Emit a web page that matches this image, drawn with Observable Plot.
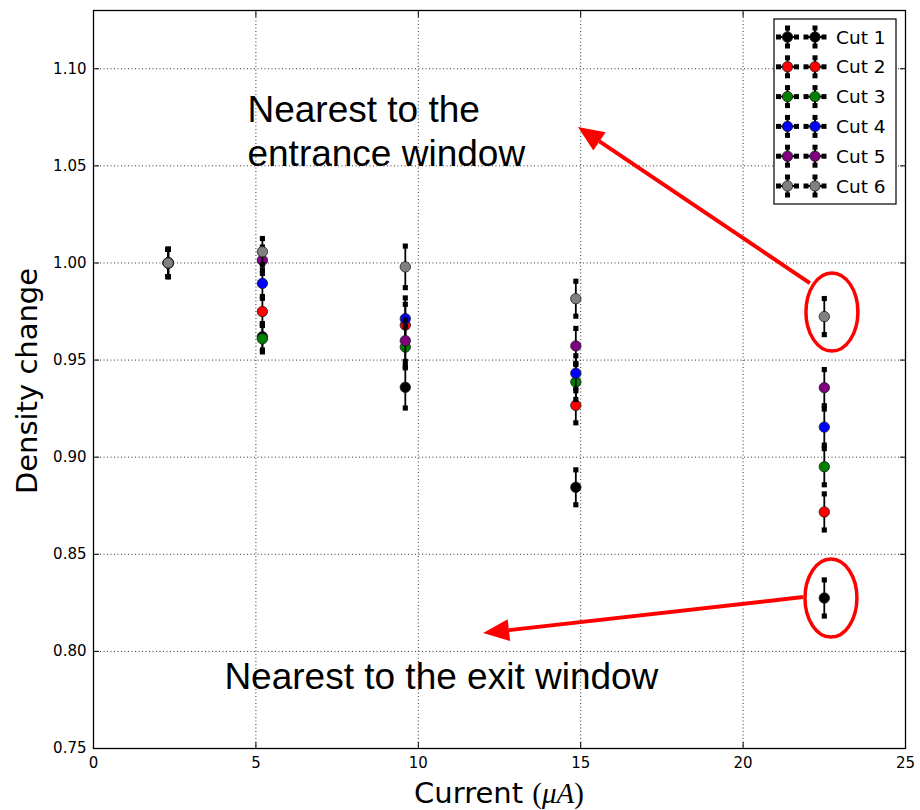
<!DOCTYPE html>
<html>
<head>
<meta charset="utf-8">
<script src="https://cdn.jsdelivr.net/npm/d3@7"></script>
<script src="https://cdn.jsdelivr.net/npm/@observablehq/plot@0.6"></script>
<style>
  body { margin: 0; background: #fff; }
  #chart svg { display: block; }
</style>
</head>
<body>
<div id="chart"></div>
<script>
// Beam current (µA) at which each density profile was measured
const currents = [2.3, 5.2, 9.6, 14.85, 22.5];

// Relative density change for each cut along the cell
const cutLabels = ["Cut 1", "Cut 2", "Cut 3", "Cut 4", "Cut 5", "Cut 6"];
const cutColors = ["#000000", "#ff0000", "#008000", "#0000ff", "#800080", "#808080"];
const cut1 = [1.000, 0.962, 0.936, 0.8845, 0.8275];
const cut2 = [1.000, 0.975, 0.968, 0.9267, 0.8718];
const cut3 = [1.000, 0.961, 0.9567, 0.9387, 0.8951];
const cut4 = [1.000, 0.9895, 0.9713, 0.9432, 0.9155];
const cut5 = [1.000, 1.0014, 0.960, 0.9573, 0.9358];
const cut6 = [1.000, 1.0058, 0.998, 0.9816, 0.9724];
const densityError = [0.007, 0.0068, 0.0107, 0.009, 0.0093];

const xTicks = [0, 5, 10, 15, 20, 25];
const yTicks = [0.75, 0.80, 0.85, 0.90, 0.95, 1.00, 1.05, 1.10];

// Callouts
const noteTexts = ["Nearest to the\nentrance window", "Nearest to the exit window"];
const noteX = [4.74, 4.03];
const noteY = [1.0497, 0.7804];
const ringX = [22.75, 22.72];
const ringY = [0.9745, 0.8272];
const ringRx = 0.8;
const ringRy = 0.0201;
const arrowFromX = [22.07, 21.86];
const arrowFromY = [0.9894, 0.8277];
const arrowToX = [14.93, 12.01];
const arrowToY = [1.0698, 0.8092];

const cutValues = [cut1, cut2, cut3, cut4, cut5, cut6];
const series = cutValues.map((vals, i) =>
  vals.map((v, j) => ({cut: cutLabels[i], x: currents[j], y: v, e: densityError[j]}))
);

// Wrap a drawing routine as a Plot render-function mark
function overlay(draw) {
  return (...args) => {
    const scales = args.find(a => a && typeof a.x === "function" && typeof a.y === "function");
    const dims = args.find(a => a && typeof a.width === "number" && "marginLeft" in a);
    const g = d3.create("svg:g");
    draw(g, scales, dims);
    return g.node();
  };
}

// Error bars, caps and markers, one cut after another
const seriesMarks = series.flatMap((data, i) => [
  Plot.ruleX(data, {x: "x", y1: d => d.y - d.e, y2: d => d.y + d.e, stroke: "black", strokeWidth: 1.8}),
  Plot.dot(data, {x: "x", y: d => d.y - d.e, symbol: "square", r: 2.9, fill: "black", stroke: "none"}),
  Plot.dot(data, {x: "x", y: d => d.y + d.e, symbol: "square", r: 2.9, fill: "black", stroke: "none"}),
  Plot.dot(data, {x: "x", y: "y", r: 5.2, fill: cutColors[i], stroke: "#1a1a1a", strokeWidth: 0.8})
]);

const callouts = overlay((g, s) => {
  // red rings
  ringX.forEach((cx, i) => {
    const px = s.x(cx), py = s.y(ringY[i]);
    const rx = s.x(cx + ringRx) - px, ry = py - s.y(ringY[i] + ringRy);
    g.append("ellipse").attr("cx", px).attr("cy", py).attr("rx", rx).attr("ry", ry)
      .attr("fill", "none").attr("stroke", "#ff0000").attr("stroke-width", 3.5);
  });
  // arrows with filled heads
  arrowFromX.forEach((fx, i) => {
    const x1 = s.x(fx), y1 = s.y(arrowFromY[i]);
    const x2 = s.x(arrowToX[i]), y2 = s.y(arrowToY[i]);
    const a = Math.atan2(y2 - y1, x2 - x1);
    const hl = 26, hw = 11;
    const bx = x2 - hl * Math.cos(a), by = y2 - hl * Math.sin(a);
    g.append("line").attr("x1", x1).attr("y1", y1).attr("x2", bx).attr("y2", by)
      .attr("stroke", "#ff0000").attr("stroke-width", 4);
    const nx = -Math.sin(a), ny = Math.cos(a);
    g.append("path")
      .attr("d", `M${x2},${y2}L${bx + hw * nx},${by + hw * ny}L${bx - hw * nx},${by - hw * ny}Z`)
      .attr("fill", "#ff0000");
  });
});

const legend = overlay((g, s, dims) => {
  const right = dims.width - dims.marginRight;
  const left = right - 131, top = dims.marginTop + 9;
  g.append("rect").attr("x", left).attr("y", top).attr("width", 122).attr("height", 185)
    .attr("fill", "white").attr("stroke", "black").attr("stroke-width", 1.2);
  cutLabels.forEach((label, i) => {
    const y = top + 18 + i * 29.8;
    [left + 13.5, left + 41].forEach(mx => {
      g.append("line").attr("x1", mx - 9).attr("x2", mx + 9).attr("y1", y).attr("y2", y)
        .attr("stroke", "black").attr("stroke-width", 2);
      g.append("line").attr("x1", mx).attr("x2", mx).attr("y1", y - 9).attr("y2", y + 9)
        .attr("stroke", "black").attr("stroke-width", 2);
      [[mx - 9, y], [mx + 9, y], [mx, y - 9], [mx, y + 9]].forEach(([cx, cy]) =>
        g.append("rect").attr("x", cx - 2.5).attr("y", cy - 2.5).attr("width", 5).attr("height", 5).attr("fill", "black"));
      g.append("circle").attr("cx", mx).attr("cy", y).attr("r", 5.2)
        .attr("fill", cutColors[i]).attr("stroke", "#1a1a1a").attr("stroke-width", 0.8);
    });
    g.append("text").attr("x", left + 62).attr("y", y).attr("dy", "0.36em")
      .style("text-anchor", "start").style("font-family", "DejaVu Sans").style("font-size", "18.5px")
      .attr("fill", "black").text(label);
  });
});

const axisTitles = overlay((g, s, dims) => {
  const cx = (dims.marginLeft + dims.width - dims.marginRight) / 2;
  const cy = (dims.marginTop + dims.height - dims.marginBottom) / 2;
  g.append("text").attr("transform", `translate(36.5,${cy + 2}) rotate(-90)`)
    .style("text-anchor", "middle").style("font-family", "DejaVu Sans").style("font-size", "29px")
    .attr("fill", "black").text("Density change");
  const t = g.append("text").attr("x", cx).attr("y", dims.height - 7)
    .style("text-anchor", "middle").style("font-family", "DejaVu Sans").style("font-size", "29px").attr("fill", "black");
  t.append("tspan").text("Current ");
  t.append("tspan").style("font-family", "Liberation Serif").text("(");
  t.append("tspan").style("font-family", "Liberation Serif").style("font-style", "italic").text("μA");
  t.append("tspan").style("font-family", "Liberation Serif").text(")");
});

const chart = Plot.plot({
  width: 920,
  height: 810,
  marginLeft: 93,
  marginRight: 15,
  marginTop: 10,
  marginBottom: 62,
  style: {fontFamily: "DejaVu Sans", fontSize: "15px", color: "black", background: "white"},
  x: {domain: [0, 25]},
  y: {domain: [0.75, 1.13]},
  marks: [
    Plot.ruleX(xTicks.slice(1, -1), {stroke: "#333", strokeWidth: 1, strokeDasharray: "1,2.5"}),
    Plot.ruleY(yTicks.slice(1), {stroke: "#333", strokeWidth: 1, strokeDasharray: "1,2.5"}),
    Plot.axisX(xTicks, {anchor: "bottom", tickSize: 0, tickPadding: 9, fontSize: 15, tickFormat: d => String(d), label: null}),
    Plot.axisY(yTicks, {anchor: "left", tickSize: 0, tickPadding: 7, fontSize: 15, tickFormat: d3.format(".2f"), label: null}),
    Plot.axisX(xTicks, {anchor: "bottom", tickSize: -6, tickFormat: () => "", label: null}),
    Plot.axisX(xTicks, {anchor: "top", tickSize: -6, tickFormat: () => "", label: null}),
    Plot.axisY(yTicks, {anchor: "left", tickSize: -6, tickFormat: () => "", label: null}),
    Plot.axisY(yTicks, {anchor: "right", tickSize: -6, tickFormat: () => "", label: null}),
    ...seriesMarks,
    callouts,
    Plot.text([0, 1], {
      x: i => noteX[i], y: i => noteY[i], text: i => noteTexts[i],
      textAnchor: "start", lineAnchor: "bottom", lineHeight: 1.19,
      fontFamily: "Liberation Sans", fontSize: 37, fill: "black"
    }),
    legend,
    axisTitles,
    Plot.frame({stroke: "black", strokeWidth: 1.3})
  ]
});

document.getElementById("chart").appendChild(chart);
</script>
</body>
</html>
